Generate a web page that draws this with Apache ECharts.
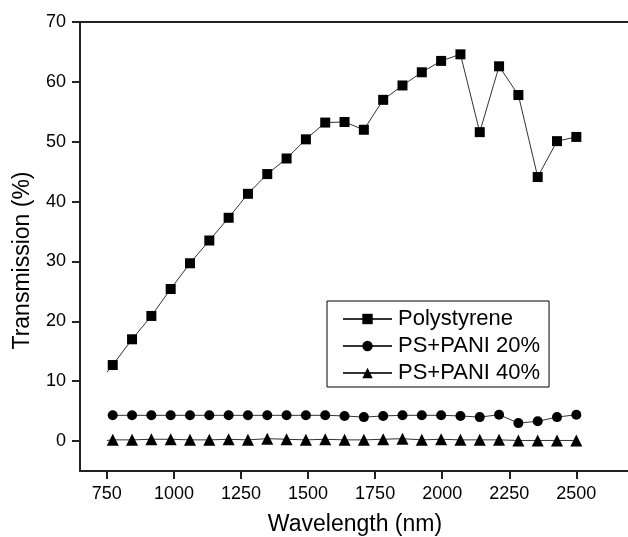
<!DOCTYPE html>
<html>
<head>
<meta charset="utf-8">
<script src="https://cdn.jsdelivr.net/npm/echarts@6/dist/echarts.min.js"></script>
<style>
html,body{margin:0;padding:0;background:#fff;}
#chart{width:628px;height:537px;}
</style>
</head>
<body>
<div id="chart"></div>
<script>
// ---- data ----
const wavelength = [772, 844, 916, 988, 1060, 1132, 1204, 1276, 1348, 1420, 1492, 1564, 1636, 1708, 1780, 1852, 1924, 1996, 2068, 2140, 2212, 2284, 2356, 2428, 2500];
const polystyrene = [12.7, 17.0, 20.9, 25.4, 29.7, 33.5, 37.3, 41.3, 44.6, 47.2, 50.4, 53.2, 53.3, 52.0, 57.0, 59.4, 61.6, 63.5, 64.6, 51.6, 62.6, 57.8, 44.1, 50.1, 50.8];
const psPani20 = [4.3, 4.3, 4.3, 4.3, 4.3, 4.3, 4.3, 4.3, 4.3, 4.3, 4.3, 4.3, 4.2, 4.0, 4.2, 4.3, 4.3, 4.3, 4.2, 4.0, 4.4, 3.0, 3.3, 4.0, 4.4];
const psPani40 = [0.2, 0.2, 0.3, 0.3, 0.2, 0.2, 0.3, 0.2, 0.4, 0.3, 0.2, 0.3, 0.2, 0.2, 0.3, 0.4, 0.2, 0.3, 0.2, 0.2, 0.2, 0.1, 0.1, 0.1, 0.1];
// unmarked leading points of the traces
const startWavelength = 750;
const polystyreneStart = 11.5;
const psPani40Start = 0.1;
const seriesNames = ['Polystyrene', 'PS+PANI 20%', 'PS+PANI 40%'];
const xTicks = [750, 1000, 1250, 1500, 1750, 2000, 2250, 2500];
const yTicks = [0, 10, 20, 30, 40, 50, 60, 70];

function pairs(xs, ys) { return xs.map((x, i) => [x, ys[i]]); }
function withStart(x0, y0, xs, ys) {
  return [{ value: [x0, y0], symbol: 'none' }].concat(pairs(xs, ys));
}

const font = 'Liberation Sans, Arial, Helvetica, sans-serif';
const chart = echarts.init(document.getElementById('chart'), null, { renderer: 'canvas' });
const lineStyle = { color: '#333', width: 1 };
const itemStyle = { color: '#000' };

chart.setOption({
  animation: false,
  backgroundColor: '#fff',
  grid: { left: 80, top: 22, width: 550, height: 449, outerBoundsMode: 'none', containLabel: false },
  legend: {
    orient: 'vertical',
    left: 327, top: 301,
    data: seriesNames,
    itemWidth: 49, itemHeight: 13, itemGap: 5,
    padding: [7, 9, 3, 15],
    borderColor: '#000', borderWidth: 1,
    textStyle: { fontFamily: font, fontSize: 22, color: '#000', padding: [0, 0, 0, 1] }
  },
  xAxis: [{
    type: 'value', min: 650, max: 2700,
    name: 'Wavelength (nm)', nameLocation: 'middle', nameGap: 42,
    nameTextStyle: { fontFamily: font, fontSize: 23, color: '#000' },
    axisLine: { show: true, onZero: false, lineStyle: { color: '#222', width: 2 } },
    axisTick: { show: true, inside: false, length: 8, customValues: xTicks, lineStyle: { color: '#222', width: 2 } },
    axisLabel: { customValues: xTicks, margin: 14, fontFamily: font, fontSize: 18, color: '#000', formatter: v => String(v) },
    splitLine: { show: false }
  }, {
    type: 'value', min: 650, max: 2700, position: 'top',
    axisLine: { show: true, onZero: false, lineStyle: { color: '#222', width: 2 } },
    axisTick: { show: false }, axisLabel: { show: false }, splitLine: { show: false }
  }],
  yAxis: {
    type: 'value', min: -5, max: 70,
    name: 'Transmission (%)', nameLocation: 'middle', nameGap: 46,
    nameTextStyle: { fontFamily: font, fontSize: 23, color: '#000', padding: [0, 28, 0, 0] },
    axisLine: { show: true, onZero: false, lineStyle: { color: '#222', width: 2 } },
    axisTick: { show: true, inside: false, length: 8, customValues: yTicks, lineStyle: { color: '#222', width: 2 } },
    axisLabel: { customValues: yTicks, margin: 14, fontFamily: font, fontSize: 18, color: '#000' },
    splitLine: { show: false }
  },
  series: [{
    name: seriesNames[0], type: 'line',
    data: withStart(startWavelength, polystyreneStart, wavelength, polystyrene),
    symbol: 'rect', symbolSize: 10, showAllSymbol: true,
    lineStyle: lineStyle, itemStyle: itemStyle
  }, {
    name: seriesNames[1], type: 'line',
    data: pairs(wavelength, psPani20),
    symbol: 'circle', symbolSize: 10, showAllSymbol: true,
    lineStyle: lineStyle, itemStyle: itemStyle
  }, {
    name: seriesNames[2], type: 'line',
    data: withStart(startWavelength, psPani40Start, wavelength, psPani40),
    symbol: 'triangle', symbolSize: 12, showAllSymbol: true,
    lineStyle: lineStyle, itemStyle: itemStyle
  }]
});
</script>
</body>
</html>
